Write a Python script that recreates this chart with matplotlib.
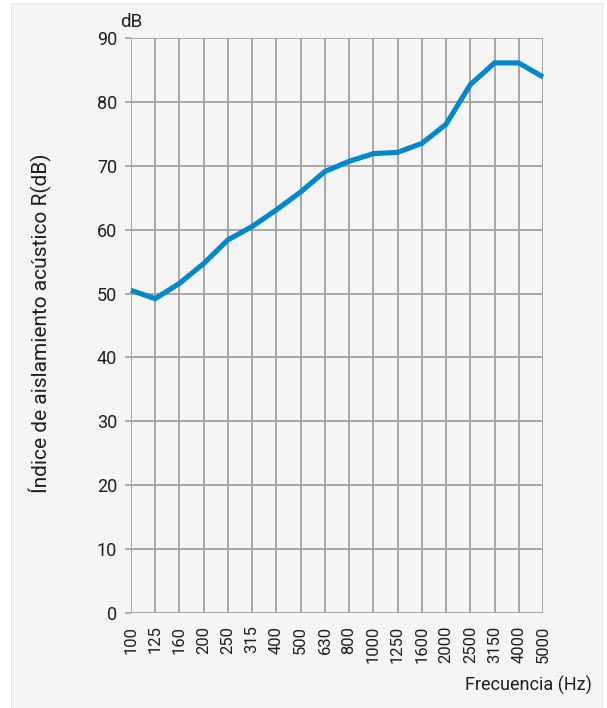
"""Sound insulation index vs frequency."""

import matplotlib
matplotlib.use("Agg")
import matplotlib.pyplot as plt
from matplotlib.patches import Rectangle

frequencies = ["100", "125", "160", "200", "250", "315", "400", "500", "630",
               "800", "1000", "1250", "1600", "2000", "2500", "3150", "4000", "5000"]
r_values = [50.5, 49.2, 51.6, 54.7, 58.4, 60.5, 63.1, 65.9, 69.1,
            70.7, 71.9, 72.1, 73.5, 76.5, 82.7, 86.1, 86.1, 83.9]
y_ticks = [0, 10, 20, 30, 40, 50, 60, 70, 80, 90]

plt.rcParams["font.family"] = ["Roboto", "DejaVu Sans"]
bg = "#f4f4f4"
grid_c = "#a0a0a2"
txt_c = "#1e1e1e"

fig = plt.figure(figsize=(6.07, 7.08), dpi=100)
fig.patch.set_facecolor("white")
fig.patches.append(Rectangle((11 / 607, 0), 591 / 607, 705 / 708,
                             transform=fig.transFigure, facecolor=bg,
                             edgecolor="#ececec", lw=0.8, zorder=-5))

ax = fig.add_axes([131 / 607, 1 - 613 / 708, 412 / 607, 575 / 708])
ax.set_facecolor(bg)
x = list(range(len(frequencies)))
ax.plot(x, r_values, color="#0088cc", lw=3.7, solid_joinstyle="miter",
        solid_capstyle="butt", zorder=3, clip_on=False)

ax.set_xlim(0, len(frequencies) - 1)
ax.set_ylim(0, 90)
ax.set_xticks(x)
ax.set_xticklabels(frequencies, rotation=90, fontsize=12, color=txt_c)
ax.set_yticks(y_ticks)
ax.set_yticklabels([str(v) for v in y_ticks], fontsize=13, color=txt_c)
ax.tick_params(axis="x", length=0, pad=9)
ax.tick_params(axis="y", length=4, width=1.2, color=grid_c, pad=6)
ax.grid(True, color=grid_c, lw=1.3)
ax.set_axisbelow(True)
for s in ax.spines.values():
    s.set_visible(False)

fig.text(120 / 607, 1 - 22 / 708, "dB", fontsize=13.5, color=txt_c,
         ha="left", va="center")
fig.text(40 / 607, 1 - 323 / 708, "Índice de aislamiento acústico R(dB)",
         rotation=90, fontsize=15, color=txt_c, ha="center", va="center")
fig.text(592 / 607, 1 - 685 / 708, "Frecuencia (Hz)", fontsize=13,
         color=txt_c, ha="right", va="center")

fig.savefig("out.png", dpi=100)
